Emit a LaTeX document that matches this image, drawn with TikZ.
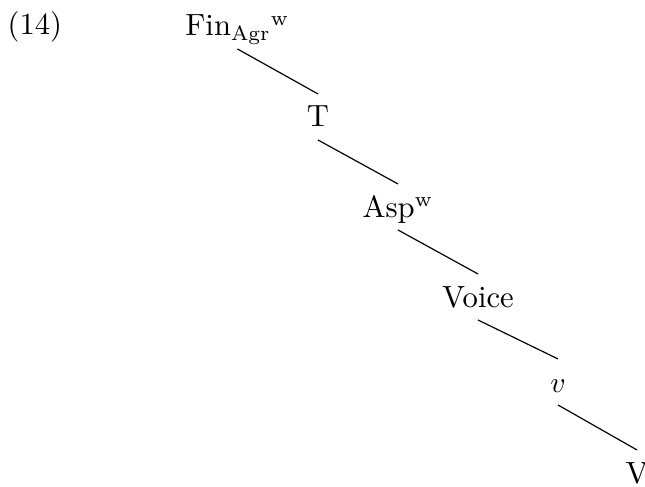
\documentclass[tikz,border=0pt]{standalone}
\begin{document}
\begin{tikzpicture}[
  x=0.339pt, y=-0.339pt,
  lbl/.style={inner sep=0pt, font=\fontsize{10.4}{12.5}\selectfont},
  cat/.style={lbl, anchor=base, text height=11pt, text depth=4.2pt},
  branch/.style={line width=0.4pt}
]
\useasboundingbox (0,0) rectangle (645,486);

% example number
\node[lbl, anchor=base west] (ex) at (7,35) {(14)};

% spine of the tree
\node[cat] (fin)   at (237.5,36) {Fin$_{\mathrm{Agr}}{}^{\mathrm{w}}$};
\node[cat] (t)     at (318,127)  {T};
\node[cat] (asp)   at (398,217)  {Asp$^{\mathrm{w}}$};
\node[cat] (voice) at (478,307)  {Voice};
\node[cat] (lv)    at (558,392)  {$v$};
\node[cat] (bigv)  at (637,483)  {V};

\draw[branch] (fin.south)   -- (t.north);
\draw[branch] (t.south)     -- (asp.north);
\draw[branch] (asp.south)   -- (voice.north);
\draw[branch] (voice.south) -- (lv.north);
\draw[branch] (lv.south)    -- (bigv.north);
\end{tikzpicture}
\end{document}
